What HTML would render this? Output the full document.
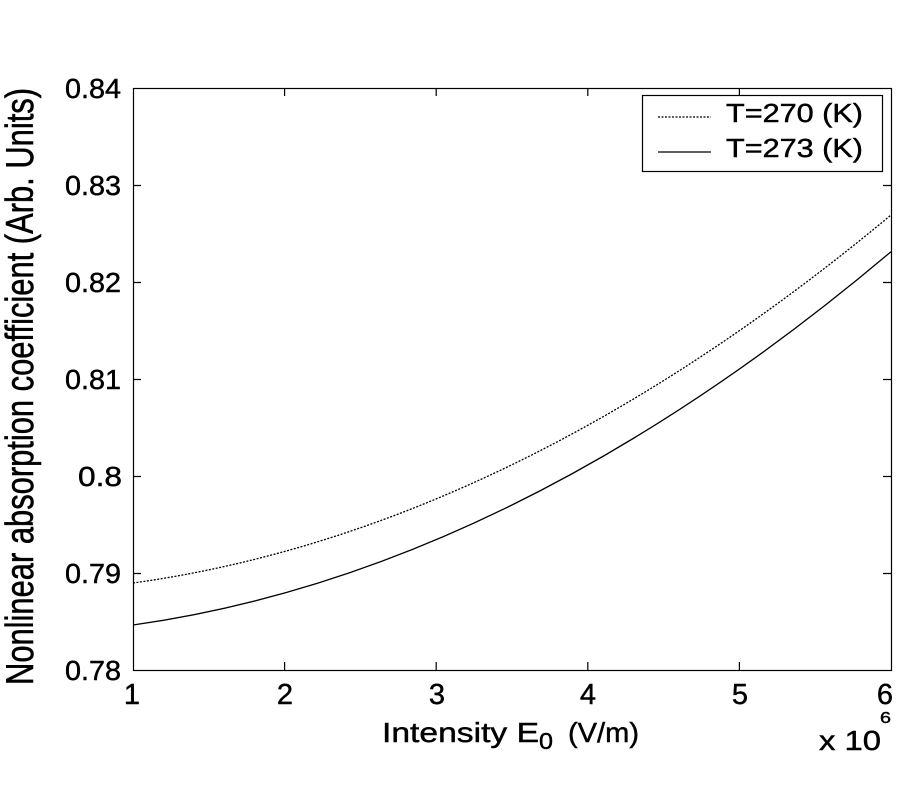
<!DOCTYPE html>
<html>
<head>
<meta charset="utf-8">
<style>
html,body{margin:0;padding:0;background:#fff;}
svg{display:block;}
text{font-family:"Liberation Sans",Arial,sans-serif;fill:#000;stroke:#000;stroke-width:0.45;}
</style>
</head>
<body>
<svg width="900" height="800" viewBox="0 0 900 800" xmlns="http://www.w3.org/2000/svg">
<rect x="0" y="0" width="900" height="800" fill="#fff"/>
<defs>
<clipPath id="pa"><rect x="133" y="88" width="759" height="583"/></clipPath>
</defs>
<!-- curves -->
<g clip-path="url(#pa)" fill="none" stroke="#000" stroke-width="1.3">
<path d="M133,583 Q512,530.43 891,215" stroke-dasharray="2,1.5"/>
<path d="M133,625 Q512,571.67 891,251.7"/>
</g>
<!-- axes box -->
<rect x="133.5" y="88.5" width="758" height="582" fill="none" stroke="#000" stroke-width="1.2"/>
<!-- ticks -->
<g stroke="#000" stroke-width="1.2">
<path d="M284.6,670 V662 M436.2,670 V662 M587.8,670 V662 M739.4,670 V662"/>
<path d="M284.6,88 V96 M436.2,88 V96 M587.8,88 V96 M739.4,88 V96"/>
<path d="M133,185.5 H141 M133,282.5 H141 M133,379.5 H141 M133,476.5 H141 M133,573.5 H141"/>
<path d="M891,185.5 H883 M891,282.5 H883 M891,379.5 H883 M891,476.5 H883 M891,573.5 H883"/>
</g>
<!-- y tick labels -->
<g font-size="28" text-anchor="end">
<text x="121" y="98" textLength="56" lengthAdjust="spacingAndGlyphs">0.84</text>
<text x="121" y="195" textLength="56" lengthAdjust="spacingAndGlyphs">0.83</text>
<text x="121" y="292" textLength="56" lengthAdjust="spacingAndGlyphs">0.82</text>
<text x="121" y="389" textLength="56" lengthAdjust="spacingAndGlyphs">0.81</text>
<text x="122" y="486" textLength="44" lengthAdjust="spacingAndGlyphs">0.8</text>
<text x="121" y="583" textLength="56" lengthAdjust="spacingAndGlyphs">0.79</text>
<text x="121" y="680" textLength="56" lengthAdjust="spacingAndGlyphs">0.78</text>
</g>
<!-- x tick labels -->
<g font-size="29" text-anchor="middle">
<text x="132" y="704">1</text>
<text x="285" y="704">2</text>
<text x="437" y="704">3</text>
<text x="588" y="704">4</text>
<text x="740" y="704">5</text>
<text x="885" y="704">6</text>
</g>
<!-- exponent -->
<text x="819" y="750" font-size="28" textLength="62" lengthAdjust="spacingAndGlyphs">x 10</text>
<text x="880" y="723" font-size="16" textLength="11" lengthAdjust="spacingAndGlyphs">6</text>
<!-- x label -->
<text x="382" y="742" font-size="28" textLength="157" lengthAdjust="spacingAndGlyphs">Intensity E</text>
<text x="539" y="749" font-size="23" textLength="14" lengthAdjust="spacingAndGlyphs">0</text>
<text x="568" y="742" font-size="28" textLength="71" lengthAdjust="spacingAndGlyphs">(V/m)</text>
<!-- y label -->
<text transform="translate(33,386.5) rotate(-90) scale(1,1.3)" font-size="30" text-anchor="middle" textLength="597" lengthAdjust="spacingAndGlyphs">Nonlinear absorption coefficient (Arb. Units)</text>
<!-- legend -->
<rect x="642.5" y="95.5" width="240" height="76" fill="#fff" stroke="#000" stroke-width="1.2"/>
<line x1="658" y1="117" x2="711" y2="117" stroke="#000" stroke-width="1.2" stroke-dasharray="2,1.5"/>
<line x1="658" y1="152" x2="711" y2="152" stroke="#000" stroke-width="1.2"/>
<text x="726" y="122" font-size="26" textLength="137" lengthAdjust="spacingAndGlyphs">T=270 (K)</text>
<text x="726" y="157" font-size="26" textLength="137" lengthAdjust="spacingAndGlyphs">T=273 (K)</text>
</svg>
</body>
</html>
